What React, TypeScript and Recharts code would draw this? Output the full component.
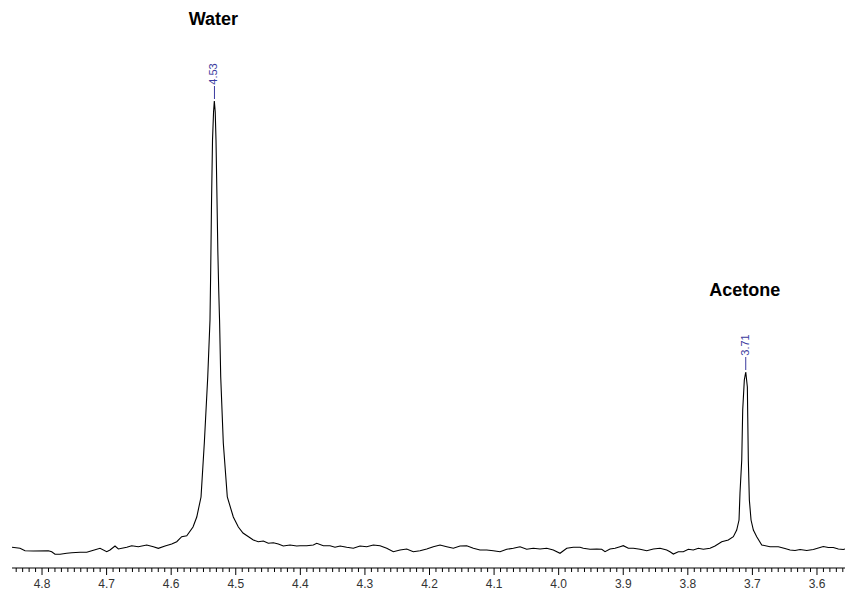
import React from "react";
import { LineChart, Line, XAxis, YAxis, ReferenceDot } from "recharts";

// chemical shift (ppm) and signal intensity of the 1H spectrum trace
const shifts = [
  4.8465, 4.8341, 4.8263, 4.8135, 4.7902, 4.785, 4.7799, 4.7721, 4.7618, 4.754,
  4.7412, 4.7308, 4.723, 4.7102, 4.6998, 4.6947, 4.687, 4.6818, 4.6688, 4.6611,
  4.6509, 4.6379, 4.6276, 4.6199, 4.6095, 4.5992, 4.5914, 4.5837, 4.5759,
  4.5662, 4.5604, 4.5538, 4.5487, 4.5434, 4.5399, 4.5388, 4.5375, 4.536, 4.5344,
  4.5332, 4.5318, 4.5306, 4.5293, 4.5278, 4.5264, 4.5251, 4.5233, 4.5193, 4.5131,
  4.5038, 4.496, 4.4888, 4.4728, 4.4651, 4.4573, 4.4496, 4.4418, 4.4341, 4.4263,
  4.416, 4.4056, 4.4005, 4.3901, 4.3799, 4.3746, 4.3644, 4.354, 4.3463, 4.3385,
  4.3282, 4.318, 4.3076, 4.2972, 4.287, 4.2766, 4.2662, 4.256, 4.2456, 4.2353,
  4.2251, 4.2147, 4.2043, 4.1941, 4.1837, 4.1733, 4.1631, 4.1527, 4.1424, 4.1321,
  4.1218, 4.1114, 4.1012, 4.0908, 4.0804, 4.0702, 4.0598, 4.0495, 4.0392, 4.0289,
  4.0185, 4.0083, 3.9979, 3.9875, 3.9773, 3.9669, 3.9618, 3.9514, 3.9411, 3.9333,
  3.9282, 3.9205, 3.9127, 3.905, 3.8999, 3.8921, 3.8844, 3.874, 3.8636, 3.8534,
  3.843, 3.8327, 3.8276, 3.8224, 3.8147, 3.807, 3.7992, 3.7915, 3.7837, 3.776,
  3.7656, 3.7579, 3.7475, 3.7373, 3.7295, 3.7243, 3.7207, 3.7192, 3.7165, 3.715,
  3.7125, 3.7103, 3.7078, 3.7072, 3.7063, 3.7047, 3.7021, 3.6985, 3.6933, 3.6855,
  3.6727, 3.6598, 3.6495, 3.6417, 3.634, 3.6262, 3.6159, 3.6056, 3.5979, 3.5902,
  3.5824, 3.5747, 3.5669, 3.5592, 3.5566,
];

const intensity = [
  0.7, -0.3, -2.7, -3, -2.7, -3.7, -6.3, -6.3, -5.3, -4.7,
  -4.3, -4.3, -2.7, -0.3, -3.7, -2, 2, -1, 0.7, 2.3,
  1.3, 3, 1.3, -0.3, 2, 4, 6.3, 11.3, 12.3,
  21, 31, 51, 105, 171, 228, 278, 348, 408, 436,
  447, 436, 408, 358, 298, 258, 228, 171, 105, 51,
  31, 21, 15, 8, 6.3, 7, 4.7, 5.3, 4, 2,
  3, 2, 2.3, 2.3, 3, 4.7, 2.3, 2.3, 0.7, 2,
  0.7, -0.3, 2, 1.3, 3, 2.3, -0.3, -3.7, -2, -1,
  -3.7, -2.7, -1, 1.3, 3, 1.3, -0.3, 2, 2.3, -0.3,
  -2, -2, -2.7, -3.7, -1.3, -0.3, 1.3, -1.3, -0.3, -1,
  -0.3, -2, -5.3, -0.3, 0.7, 0.7, -0.3, -1.3, -1, -1.3,
  -3.7, -1, -0.3, 1.3, 2.3, -0.3, -0.3, -1.3, -2.7, -1,
  -0.3, -2, -3.7, -6, -3.7, -3.7, -1.3, -2, -0.3, -1.3,
  -0.3, 2, 6.3, 8, 11.3, 18, 28, 55, 88, 138,
  168, 176, 161, 131, 88, 48, 28, 18, 11.3, 3,
  1.3, 1.3, -0.5, -2, -2.5, -1.5, -2.5, -1.5, 0, 1.5,
  0.5, 0.5, -1, -1.5, -1,
];

// labelled peaks
const peakNames = ["Water", "Acetone"];
const peakShifts = [4.533, 3.7103];
const peakHeights = [447, 176];

const majorTicks = [4.8, 4.7, 4.6, 4.5, 4.4, 4.3, 4.2, 4.1, 4.0, 3.9, 3.8, 3.7, 3.6];

const spectrum = shifts.map((ppm, i) => ({ ppm, value: intensity[i] }));

// 0.01 ppm minor ticks across the window
const allTicks: number[] = [];
for (let i = 356; i <= 484; i++) allTicks.push(i / 100);

const FONT = "Arial, 'Liberation Sans', sans-serif";

function PpmTick(props: any) {
  const { x, y, payload } = props;
  const v: number = payload.value;
  const major = majorTicks.some((t) => Math.abs(t - v) < 1e-6);
  return (
    <g>
      <line x1={x} x2={x} y1={y} y2={y + (major ? 7 : 4)} stroke="#000" strokeWidth={1} />
      {major && (
        <text x={x} y={y + 20} textAnchor="middle" fontSize={12} fontFamily={FONT} fill="#333">
          {v.toFixed(1)}
        </text>
      )}
    </g>
  );
}

function PeakMarker(props: any) {
  const { cx, cy, name, ppm } = props;
  return (
    <g>
      <line x1={cx} x2={cx} y1={cy - 2} y2={cy - 15} stroke="#3a3a9e" strokeWidth={1} />
      <text
        x={cx - 1}
        y={cy - 27}
        transform={`rotate(-90 ${cx - 1} ${cy - 27})`}
        textAnchor="middle"
        dominantBaseline="central"
        fontSize={11}
        fontFamily={FONT}
        fill="#3a3a9e"
      >
        {ppm.toFixed(2)}
      </text>
      <text
        x={cx - 1}
        y={cy - 82}
        textAnchor="middle"
        dominantBaseline="central"
        fontSize={18}
        fontWeight="bold"
        fontFamily={FONT}
        fill="#000"
      >
        {name}
      </text>
    </g>
  );
}

export default function App() {
  return (
    <div style={{ position: "absolute", left: 0, top: 0, width: 845, height: 590, background: "#fff" }}>
      <LineChart width={845} height={590} data={spectrum} margin={{ top: 0, right: 0, left: 12, bottom: 0 }}>
        <XAxis
          dataKey="ppm"
          type="number"
          domain={[3.5566, 4.8465]}
          reversed
          allowDataOverflow
          ticks={allTicks}
          interval={0}
          tick={<PpmTick />}
          tickLine={false}
          tickSize={0}
          tickMargin={0}
          axisLine={{ stroke: "#000" }}
          height={22}
        />
        <YAxis hide domain={[-20, 548]} allowDataOverflow />
        <Line
          type="linear"
          dataKey="value"
          stroke="#000"
          strokeWidth={1.1}
          dot={false}
          isAnimationActive={false}
        />
        {peakNames.map((name, i) => (
          <ReferenceDot
            key={name}
            x={peakShifts[i]}
            y={peakHeights[i]}
            shape={(p: any) => <PeakMarker {...p} name={name} ppm={peakShifts[i]} />}
          />
        ))}
      </LineChart>
    </div>
  );
}
